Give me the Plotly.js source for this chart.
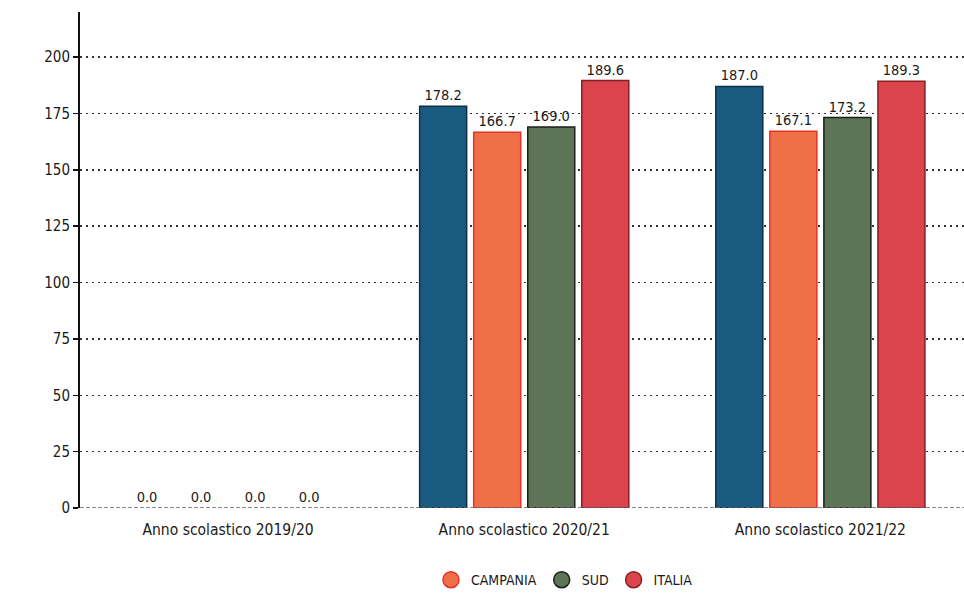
<!DOCTYPE html>
<html>
<head>
<meta charset="utf-8">
<script src="https://cdn.plot.ly/plotly-3.0.1.min.js"></script>
<style>html,body{margin:0;padding:0;background:#fff;}#chart{width:964px;height:595px;}</style>
</head>
<body>
<div id="chart"></div>
<script>
var categories = ["Anno scolastico 2019/20", "Anno scolastico 2020/21", "Anno scolastico 2021/22"];
var seriesNames = ["PROVINCIA", "CAMPANIA", "SUD", "ITALIA"];
var valsProvincia = [0.0, 178.2, 187.0];
var valsCampania = [0.0, 166.7, 167.1];
var valsSud = [0.0, 169.0, 173.2];
var valsItalia = [0.0, 189.6, 189.3];
var tickVals = [0, 25, 50, 75, 100, 125, 150, 175, 200];

var fillColors = ["#1b5a80", "#ef6f47", "#5d7456", "#d9444d"];
var lineColors = ["#0e2f45", "#e8302a", "#1a1f18", "#8a1f24"];
var allVals = [valsProvincia, valsCampania, valsSud, valsItalia];
var font = "DejaVu Sans Condensed, sans-serif";

var traces = allVals.map(function (v, i) {
  return {
    type: "bar",
    name: seriesNames[i],
    x: categories,
    y: v,
    text: v.map(function (d) { return d.toFixed(1); }),
    textposition: "outside",
    textfont: {family: font, size: 14.5, color: "#1a1a1a"},
    cliponaxis: false,
    showlegend: false,
    marker: {color: fillColors[i], line: {color: lineColors[i], width: v.map(function (d) { return d > 0 ? 1.5 : 0; })}}
  };
});

// legend entries with circular symbols (no drawn points)
for (var i = 1; i < seriesNames.length; i++) {
  traces.push({
    type: "scatter", mode: "markers", name: seriesNames[i],
    x: [null], y: [null],
    marker: {symbol: "circle", size: 16, color: fillColors[i], line: {color: lineColors[i], width: 1.5}},
    showlegend: true, hoverinfo: "skip"
  });
}

var layout = {
  width: 964, height: 595,
  margin: {l: 80, r: 0, t: 12, b: 87, autoexpand: false},
  paper_bgcolor: "#fff", plot_bgcolor: "#fff",
  barmode: "group",
  bargap: 0.27, bargroupgap: 0.13,
  font: {family: font, size: 14, color: "#222"},
  xaxis: {
    range: [-0.5, 2.485],
    showgrid: false, zeroline: false, showline: false,
    ticks: "", ticklabelstandoff: 10,
    tickfont: {family: font, size: 15.5, color: "#1a1a1a"}
  },
  yaxis: {
    range: [0, 220],
    tickvals: tickVals,
    showgrid: true, gridcolor: "#333", gridwidth: 1.5, griddash: "2px,4px",
    zeroline: false,
    showline: true, linecolor: "#111", linewidth: 2,
    ticks: "outside", ticklen: 5, tickcolor: "#111", tickwidth: 1.5,
    tickfont: {family: font, size: 15, color: "#1a1a1a"}
  },
  shapes: [{
    type: "line", xref: "paper", yref: "y", x0: 0, x1: 1, y0: 0, y1: 0,
    line: {color: "#666", width: 1.5, dash: "4px,2px"}
  }],
  legend: {
    orientation: "h", x: 0.397, xanchor: "left",
    yref: "container", y: 0.025, yanchor: "middle",
    font: {family: font, size: 14, color: "#1a1a1a"},
    itemwidth: 30, tracegroupgap: 0
  }
};

Plotly.newPlot("chart", traces, layout, {displayModeBar: false, staticPlot: true});
</script>
</body>
</html>
